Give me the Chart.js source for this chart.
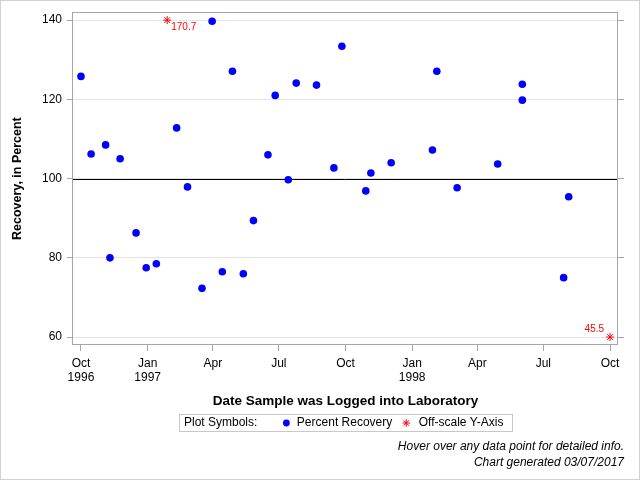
<!DOCTYPE html>
<html>
<head>
<meta charset="utf-8">
<title>Recovery, in Percent</title>
<script src="https://cdn.jsdelivr.net/npm/chart.js@4/dist/chart.umd.min.js"></script>
<style>
  html, body { margin: 0; padding: 0; background: #fff; }
  canvas { display: block; }
</style>
</head>
<body>
<canvas id="recoveryChart" width="640" height="480"></canvas>
<script>
// sample log dates and percent recovery
const recoveryDates = [
    "1996-10-01", "1996-10-15", "1996-11-04", "1996-11-10", "1996-11-24",
    "1996-12-16", "1996-12-30", "1997-01-13", "1997-02-10", "1997-02-25",
    "1997-03-17", "1997-03-31", "1997-04-14", "1997-04-28", "1997-05-13",
    "1997-05-27", "1997-06-16", "1997-06-26", "1997-07-14", "1997-07-25",
    "1997-08-22", "1997-09-15", "1997-09-26", "1997-10-29", "1997-11-05",
    "1997-12-03", "1998-01-29", "1998-02-04", "1998-03-04", "1998-04-29",
    "1998-06-02", "1998-06-02", "1998-07-29", "1998-08-05",
];
const recoveryValues = [
    125.8, 106.2, 108.5, 80.0, 105.0,
    86.3, 77.5, 78.5, 112.8, 97.9,
    72.3, 139.7, 76.5, 127.1, 76.0,
    89.4, 106.0, 121.0, 99.7, 124.1,
    123.6, 102.7, 133.4, 96.9, 101.4,
    104.0, 107.2, 127.1, 97.7, 103.7,
    123.8, 119.8, 75.0, 95.4,
];

// values outside the y range, pinned to the axis edge
const offScaleDates = ["1997-01-28", "1998-10-01"];
const offScaleValues = [170.7, 45.5];

const yTickValues = [60, 80, 100, 120, 140];
const referenceValue = 100;
const xTickDates = [
    "1996-10-01", "1997-01-01", "1997-04-01", "1997-07-01", "1997-10-01",
    "1998-01-01", "1998-04-01", "1998-07-01", "1998-10-01",
];
const xTickLabels = [
    ["Oct", "1996"], ["Jan", "1997"], "Apr", "Jul", "Oct",
    ["Jan", "1998"], "Apr", "Jul", "Oct",
];
const xRange = ["1996-09-20", "1998-10-12"];
const yRange = [58, 142];

const FONT = "'Liberation Sans', Arial, sans-serif";
const FRAME = "#a6a6a6";
const GRID = "#e3e3e3";

Chart.defaults.font.family = FONT;
Chart.defaults.color = "#000";

const yMin = yTickValues[0];
const yMax = yTickValues[yTickValues.length - 1];

const recoveryPoints = recoveryDates.map((d, i) => ({
    x: Date.parse(d),
    y: recoveryValues[i],
}));
const offScalePoints = offScaleDates.map((d, i) => ({
    x: Date.parse(d),
    y: Math.min(Math.max(offScaleValues[i], yMin), yMax),
    actual: offScaleValues[i],
}));

const setYTicks = (scale) => {
    scale.ticks = yTickValues.map((v) => ({ value: v }));
};

function fmtDate(ms) {
    const d = new Date(ms);
    const mm = String(d.getUTCMonth() + 1).padStart(2, "0");
    const dd = String(d.getUTCDate()).padStart(2, "0");
    return mm + "/" + dd + "/" + d.getUTCFullYear();
}

// white background, outer border, plot frame and the 100% line
const framePlugin = {
    id: "frame",
    beforeDraw(chart) {
        const { ctx, width, height } = chart;
        ctx.save();
        ctx.fillStyle = "#fff";
        ctx.fillRect(0, 0, width, height);
        ctx.strokeStyle = "#d0d0d0";
        ctx.lineWidth = 1;
        ctx.strokeRect(0.5, 0.5, width - 1, height - 1);
        ctx.restore();
    },
    beforeDatasetsDraw(chart) {
        const { ctx, chartArea: a, scales } = chart;
        const y = Math.round(scales.y.getPixelForValue(referenceValue)) + 0.5;
        ctx.save();
        ctx.lineWidth = 1;
        ctx.strokeStyle = "#000";
        ctx.beginPath();
        ctx.moveTo(a.left, y);
        ctx.lineTo(a.right, y);
        ctx.stroke();
        ctx.strokeStyle = FRAME;
        ctx.strokeRect(
            Math.round(a.left) - 0.5,
            Math.round(a.top) + 0.5,
            Math.round(a.right - a.left),
            Math.round(a.bottom - a.top) - 1
        );
        ctx.restore();
    },
};

// actual values next to the off-scale stars
const offScaleLabels = {
    id: "offScaleLabels",
    afterDatasetsDraw(chart) {
        const { ctx } = chart;
        const meta = chart.getDatasetMeta(1);
        ctx.save();
        ctx.font = "10px " + FONT;
        ctx.fillStyle = "#ff0000";
        ctx.textBaseline = "middle";
        meta.data.forEach((pt, i) => {
            const raw = offScalePoints[i];
            const txt = raw.actual.toFixed(1);
            if (raw.actual > yMax) {
                ctx.textAlign = "left";
                ctx.fillText(txt, pt.x + 4, pt.y + 7.5);
            } else {
                ctx.textAlign = "right";
                ctx.fillText(txt, pt.x - 6, pt.y - 7.5);
            }
        });
        ctx.restore();
    },
};

// "Plot Symbols:" legend box and footnotes
const symbolLegend = {
    id: "symbolLegend",
    afterDraw(chart) {
        const { ctx, chartArea: a } = chart;
        const ds = chart.data.datasets;
        ctx.save();
        ctx.font = "12px " + FONT;
        ctx.textBaseline = "middle";
        ctx.textAlign = "left";

        const head = "Plot Symbols:";
        const wHead = ctx.measureText(head).width;
        const w0 = ctx.measureText(ds[0].label).width;
        const w1 = ctx.measureText(ds[1].label).width;
        const gapHead = 29;
        const total = 5 + wHead + gapHead + 10.5 + w0 + 14 + 12.5 + w1 + 8.5;
        const left = Math.round((a.left + a.right) / 2 - total / 2);
        const top = 414;
        const cy = top + 9;

        ctx.strokeStyle = "#c8c8c8";
        ctx.lineWidth = 1;
        ctx.strokeRect(left + 0.5, top + 0.5, Math.round(total), 17);

        let x = left + 5;
        ctx.fillStyle = "#000";
        ctx.fillText(head, x, cy);
        x += wHead + gapHead;

        const draw = Chart.helpers && Chart.helpers.drawPoint;
        const sym = (d, px, r) => {
            draw(ctx, {
                pointStyle: d.pointStyle,
                radius: r,
                borderWidth: d.pointStyle === "star" ? 1 : 0,
            }, px, cy);
        };
        ctx.fillStyle = ds[0].backgroundColor;
        ctx.strokeStyle = ds[0].borderColor;
        if (draw) sym(ds[0], x, 3.4);
        x += 10.5;
        ctx.fillStyle = "#000";
        ctx.fillText(ds[0].label, x, cy);
        x += w0 + 14;

        ctx.fillStyle = ds[1].backgroundColor;
        ctx.strokeStyle = ds[1].borderColor;
        ctx.lineWidth = 1;
        if (draw) sym(ds[1], x, 3.8);
        x += 12.5;
        ctx.fillStyle = "#000";
        ctx.fillText(ds[1].label, x, cy);

        ctx.font = "italic 12px " + FONT;
        ctx.textAlign = "right";
        ctx.fillText("Hover over any data point for detailed info.", 624, 447);
        ctx.fillText("Chart generated 03/07/2017", 624, 463);
        ctx.restore();
    },
};

new Chart(document.getElementById("recoveryChart"), {
    type: "scatter",
    data: {
        datasets: [
            {
                label: "Percent Recovery",
                data: recoveryPoints,
                pointStyle: "circle",
                pointRadius: 3.8,
                pointHoverRadius: 5,
                borderWidth: 0,
                backgroundColor: "#0000ff",
                borderColor: "#0000ff",
            },
            {
                label: "Off-scale Y-Axis",
                data: offScalePoints,
                pointStyle: "star",
                pointRadius: 4,
                pointHoverRadius: 5,
                borderWidth: 1,
                backgroundColor: "#ff0000",
                borderColor: "#ff0000",
            },
        ],
    },
    options: {
        responsive: false,
        animation: false,
        layout: { padding: { top: 11, left: 0, right: 0, bottom: 0 } },
        plugins: {
            legend: { display: false },
            tooltip: {
                callbacks: {
                    label: function (context) {
                        const raw = context.raw;
                        const val = raw.actual !== undefined ? raw.actual : raw.y;
                        return fmtDate(raw.x) + ": " + val.toFixed(1) + "%";
                    },
                },
            },
        },
        scales: {
            x: {
                type: "linear",
                position: "bottom",
                min: Date.parse(xRange[0]),
                max: Date.parse(xRange[1]),
                afterBuildTicks: (scale) => {
                    scale.ticks = xTickDates.map((d) => ({ value: Date.parse(d) }));
                },
                afterFit: (scale) => {
                    scale.height = 135;
                },
                grid: {
                    drawOnChartArea: false,
                    tickLength: 6,
                    tickColor: FRAME,
                },
                border: { display: false },
                ticks: {
                    maxRotation: 0,
                    autoSkip: false,
                    padding: 5,
                    font: { size: 12 },
                    callback: (value, index) => xTickLabels[index],
                },
                title: {
                    display: true,
                    text: "Date Sample was Logged into Laboratory",
                    font: { size: 13.5, weight: "bold" },
                    padding: { top: 0, bottom: 71 },
                },
            },
            y: {
                position: "left",
                min: yRange[0],
                max: yRange[1],
                afterBuildTicks: setYTicks,
                afterFit: (scale) => {
                    scale.width = 73;
                },
                grid: {
                    color: GRID,
                    tickLength: 6,
                    tickColor: FRAME,
                },
                border: { display: false },
                ticks: {
                    padding: 5,
                    font: { size: 12 },
                },
                title: {
                    display: true,
                    text: "Recovery, in Percent",
                    font: { size: 12.5, weight: "bold" },
                    padding: { top: 10.5, bottom: 0 },
                },
            },
            y2: {
                position: "right",
                min: yRange[0],
                max: yRange[1],
                afterBuildTicks: setYTicks,
                afterFit: (scale) => {
                    scale.width = 22;
                },
                grid: {
                    drawOnChartArea: false,
                    tickLength: 6,
                    tickColor: FRAME,
                },
                border: { display: false },
                ticks: { display: false },
            },
        },
    },
    plugins: [framePlugin, offScaleLabels, symbolLegend],
});
</script>
</body>
</html>
